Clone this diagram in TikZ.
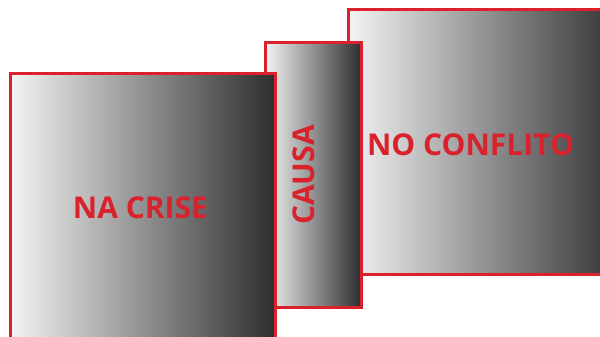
\documentclass[tikz,border=0pt]{standalone}
\usepackage{fontspec}
\setmainfont{Open Sans}
\definecolor{boxred}{HTML}{D9222B}
\definecolor{gradL}{HTML}{F4F4F5}
\definecolor{gradR}{HTML}{2E2E30}
\begin{document}
\begin{tikzpicture}[x=1pt,y=-1pt,
  panel/.style={draw=boxred,line width=3pt,left color=gradL,right color=gradR},
  lbl/.style={text=boxred,font=\fontsize{30}{30}\selectfont\bfseries,inner sep=0pt,anchor=center}]
\useasboundingbox (0,0) rectangle (600,337);
\clip (0,0) rectangle (600,337);
\path[panel] (348,10) rectangle (625,274);
\path[panel] (265,43) rectangle (361,307);
\path[panel] (10,74) rectangle (275,350);
\node[lbl] (t1) at (140.5,207.5) {NA CRISE};
\node[lbl,rotate=90] (t2) at (304,175) {CAUSA};
\node[lbl] (t3) at (470.5,144.5) {NO CONFLITO};
\end{tikzpicture}
\end{document}
